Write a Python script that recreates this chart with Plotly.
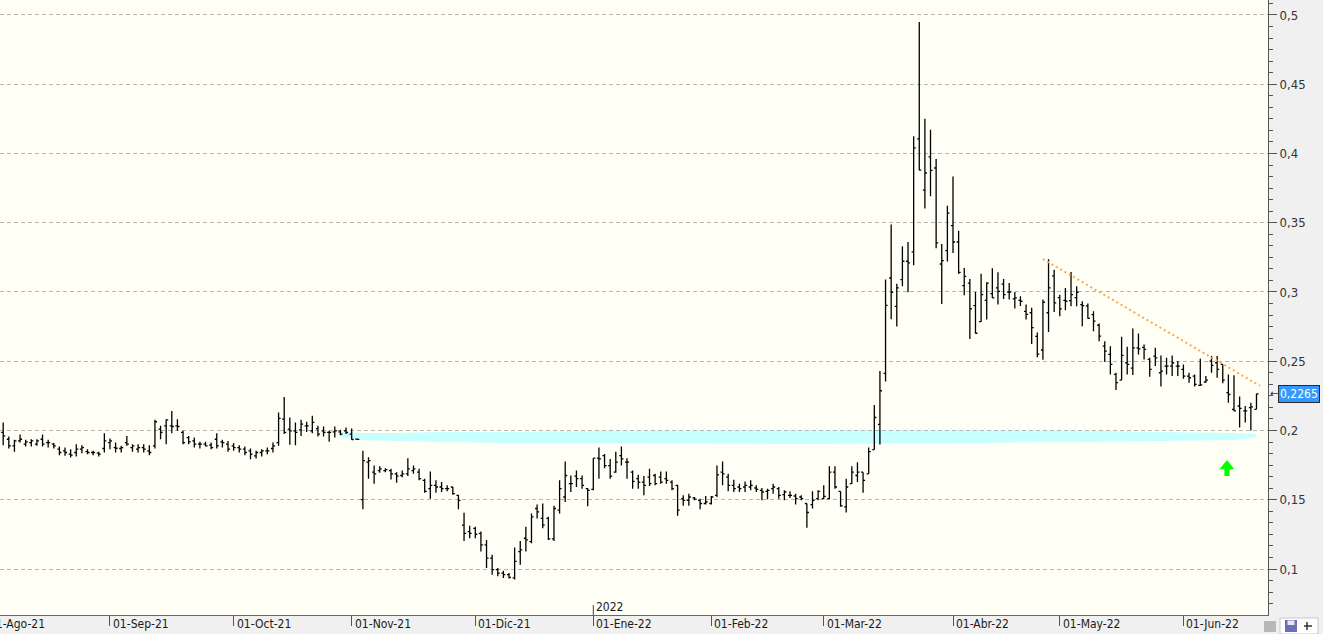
import plotly.graph_objects as go

FONT = "Liberation Sans Narrow, Arial Narrow, DejaVu Sans Condensed, Liberation Sans, sans-serif"

# ---------------- data (one bar per trading session) ----------------
opens = [
    0.1986, 0.1937, 0.1889, 0.1925, 0.1901, 0.1913, 0.1901, 0.1937, 0.1913, 0.1901,
    0.1865, 0.1853, 0.1829, 0.1841, 0.1865, 0.1848, 0.1841, 0.1836, 0.1870, 0.1913,
    0.1877, 0.1870, 0.1913, 0.1877, 0.1865, 0.1877, 0.1853, 0.1889, 0.2010, 0.2034,
    0.2034, 0.2034, 0.1986, 0.1949, 0.1925, 0.1901, 0.1901, 0.1894, 0.1937, 0.1918,
    0.1901, 0.1889, 0.1877, 0.1865, 0.1853, 0.1817, 0.1841, 0.1853, 0.1870, 0.1913,
    0.2082, 0.2010, 0.1998, 0.2005, 0.2034, 0.1998, 0.2014, 0.1998, 0.1986, 0.1990,
    0.1990, 0.1998, 0.1974, 0.1938, 0.1501, 0.1771, 0.1699, 0.1711, 0.1711, 0.1711,
    0.1687, 0.1675, 0.1687, 0.1711, 0.1699, 0.1640, 0.1580, 0.1604, 0.1592, 0.1580,
    0.1592, 0.1532, 0.1317, 0.1270, 0.1294, 0.1258, 0.1174, 0.1079, 0.0995, 0.0971,
    0.0959, 0.0936, 0.1126, 0.1222, 0.1198, 0.1437, 0.1365, 0.1365, 0.1217, 0.1425,
    0.1520, 0.1616, 0.1671, 0.1652, 0.1580, 0.1575, 0.1800, 0.1819, 0.1747, 0.1699,
    0.1819, 0.1771, 0.1699, 0.1652, 0.1628, 0.1663, 0.1675, 0.1663, 0.1652, 0.1628,
    0.1604, 0.1508, 0.1496, 0.1513, 0.1496, 0.1473, 0.1473, 0.1532, 0.1699, 0.1663,
    0.1604, 0.1592, 0.1592, 0.1592, 0.1585, 0.1568, 0.1561, 0.1580, 0.1580, 0.1537,
    0.1532, 0.1527, 0.1520, 0.1473, 0.1465, 0.1508, 0.1508, 0.1508, 0.1699, 0.1561,
    0.1449, 0.1616, 0.1675, 0.1699, 0.1687, 0.1862, 0.2044, 0.2413, 0.3101, 0.2896,
    0.3089, 0.3222, 0.3289, 0.4105, 0.3736, 0.3975, 0.3895, 0.3202, 0.3298, 0.3479,
    0.3361, 0.3046, 0.3064, 0.2902, 0.2786, 0.2940, 0.2988, 0.3029, 0.3057, 0.3000,
    0.2950, 0.2940, 0.2860, 0.2850, 0.2679, 0.2581, 0.2850, 0.3117, 0.2960, 0.2940,
    0.2938, 0.2960, 0.2909, 0.2900, 0.2837, 0.2760, 0.2609, 0.2549, 0.2405, 0.2364,
    0.2489, 0.2450, 0.2597, 0.2600, 0.2513, 0.2537, 0.2417, 0.2465, 0.2465, 0.2465,
    0.2441, 0.2393, 0.2393, 0.2326, 0.2350, 0.2501, 0.2489, 0.2477, 0.2273, 0.2153,
    0.2177, 0.2141, 0.2165, 0.2153,
]
highs = [
    0.2058, 0.1957, 0.1933, 0.1971, 0.1933, 0.1937, 0.1937, 0.1971, 0.1933, 0.1909,
    0.1884, 0.1877, 0.1865, 0.1901, 0.1894, 0.1865, 0.1853, 0.1846, 0.1981, 0.1942,
    0.1913, 0.1889, 0.1961, 0.1901, 0.1901, 0.1901, 0.1894, 0.2077, 0.2034, 0.2082,
    0.2140, 0.2082, 0.1998, 0.1961, 0.1949, 0.1918, 0.1918, 0.1913, 0.1981, 0.1933,
    0.1925, 0.1909, 0.1894, 0.1884, 0.1870, 0.1853, 0.1865, 0.1877, 0.1913, 0.2130,
    0.2242, 0.2094, 0.2058, 0.2077, 0.2063, 0.2106, 0.2034, 0.2029, 0.1998, 0.2029,
    0.2005, 0.2022, 0.2014, 0.1942, 0.1854, 0.1807, 0.1747, 0.1742, 0.1728, 0.1723,
    0.1699, 0.1711, 0.1800, 0.1747, 0.1723, 0.1652, 0.1704, 0.1640, 0.1628, 0.1604,
    0.1592, 0.1537, 0.1406, 0.1313, 0.1305, 0.1270, 0.1210, 0.1103, 0.1007, 0.0988,
    0.0971, 0.1155, 0.1203, 0.1305, 0.1401, 0.1465, 0.1473, 0.1377, 0.1456, 0.1640,
    0.1776, 0.1675, 0.1711, 0.1675, 0.1585, 0.1800, 0.1878, 0.1831, 0.1795, 0.1847,
    0.1885, 0.1800, 0.1711, 0.1680, 0.1671, 0.1723, 0.1687, 0.1704, 0.1704, 0.1640,
    0.1609, 0.1532, 0.1544, 0.1520, 0.1508, 0.1527, 0.1527, 0.1747, 0.1776, 0.1687,
    0.1644, 0.1616, 0.1632, 0.1640, 0.1604, 0.1585, 0.1580, 0.1616, 0.1592, 0.1568,
    0.1561, 0.1544, 0.1532, 0.1473, 0.1561, 0.1568, 0.1604, 0.1742, 0.1742, 0.1561,
    0.1652, 0.1742, 0.1771, 0.1699, 0.1878, 0.2184, 0.2430, 0.3090, 0.3488, 0.3060,
    0.3331, 0.3360, 0.4124, 0.4949, 0.4251, 0.4172, 0.3960, 0.3347, 0.3623, 0.3833,
    0.3443, 0.3174, 0.3093, 0.3000, 0.3131, 0.3071, 0.3171, 0.3143, 0.3093, 0.3064,
    0.3000, 0.2969, 0.2910, 0.2886, 0.2707, 0.2945, 0.3236, 0.3160, 0.2980, 0.3029,
    0.3144, 0.3041, 0.2933, 0.2916, 0.2861, 0.2772, 0.2645, 0.2609, 0.2417, 0.2676,
    0.2604, 0.2736, 0.2700, 0.2621, 0.2525, 0.2597, 0.2542, 0.2525, 0.2542, 0.2501,
    0.2477, 0.2417, 0.2405, 0.2518, 0.2393, 0.2537, 0.2537, 0.2477, 0.2405, 0.2398,
    0.2245, 0.2177, 0.2201, 0.2266,
]
lows = [
    0.1894, 0.1870, 0.1846, 0.1913, 0.1884, 0.1884, 0.1889, 0.1884, 0.1877, 0.1870,
    0.1822, 0.1817, 0.1805, 0.1812, 0.1836, 0.1829, 0.1822, 0.1812, 0.1841, 0.1865,
    0.1841, 0.1841, 0.1889, 0.1846, 0.1841, 0.1841, 0.1822, 0.1870, 0.1937, 0.1901,
    0.1981, 0.1998, 0.1901, 0.1901, 0.1877, 0.1870, 0.1884, 0.1865, 0.1870, 0.1877,
    0.1846, 0.1853, 0.1841, 0.1822, 0.1793, 0.1798, 0.1812, 0.1829, 0.1841, 0.1889,
    0.1974, 0.1897, 0.1894, 0.1961, 0.1990, 0.1981, 0.1957, 0.1957, 0.1918, 0.1949,
    0.1966, 0.1974, 0.1933, 0.1933, 0.1432, 0.1652, 0.1616, 0.1695, 0.1699, 0.1647,
    0.1623, 0.1663, 0.1671, 0.1687, 0.1640, 0.1551, 0.1508, 0.1551, 0.1556, 0.1561,
    0.1537, 0.1432, 0.1203, 0.1222, 0.1222, 0.1126, 0.1007, 0.0959, 0.0947, 0.0936,
    0.0931, 0.0924, 0.1031, 0.1126, 0.1186, 0.1365, 0.1294, 0.1210, 0.1203, 0.1401,
    0.1484, 0.1556, 0.1592, 0.1580, 0.1453, 0.1568, 0.1652, 0.1728, 0.1652, 0.1695,
    0.1747, 0.1652, 0.1580, 0.1580, 0.1532, 0.1599, 0.1604, 0.1616, 0.1616, 0.1568,
    0.1384, 0.1456, 0.1456, 0.1496, 0.1432, 0.1465, 0.1465, 0.1520, 0.1604, 0.1561,
    0.1556, 0.1556, 0.1556, 0.1568, 0.1556, 0.1496, 0.1504, 0.1544, 0.1508, 0.1496,
    0.1513, 0.1465, 0.1496, 0.1298, 0.1437, 0.1496, 0.1504, 0.1504, 0.1580, 0.1449,
    0.1408, 0.1616, 0.1628, 0.1551, 0.1687, 0.1862, 0.1899, 0.2353, 0.2804, 0.2751,
    0.3041, 0.2998, 0.3193, 0.3878, 0.3602, 0.3691, 0.3315, 0.2913, 0.3221, 0.3282,
    0.3130, 0.2976, 0.2660, 0.2700, 0.2783, 0.2802, 0.2957, 0.2910, 0.2950, 0.2945,
    0.2881, 0.2898, 0.2802, 0.2624, 0.2529, 0.2510, 0.2712, 0.2856, 0.2825, 0.2868,
    0.2897, 0.2897, 0.2753, 0.2806, 0.2717, 0.2645, 0.2494, 0.2405, 0.2293, 0.2364,
    0.2405, 0.2400, 0.2549, 0.2513, 0.2388, 0.2465, 0.2317, 0.2405, 0.2393, 0.2393,
    0.2374, 0.2345, 0.2317, 0.2321, 0.2345, 0.2417, 0.2381, 0.2341, 0.2201, 0.2141,
    0.2022, 0.2058, 0.2000, 0.2153,
]
closes = [
    0.1961, 0.1889, 0.1925, 0.1937, 0.1918, 0.1925, 0.1925, 0.1901, 0.1913, 0.1889,
    0.1841, 0.1841, 0.1822, 0.1865, 0.1877, 0.1841, 0.1841, 0.1829, 0.1925, 0.1925,
    0.1872, 0.1877, 0.1901, 0.1889, 0.1877, 0.1865, 0.1841, 0.2063, 0.1986, 0.2077,
    0.2029, 0.2029, 0.1913, 0.1918, 0.1901, 0.1901, 0.1889, 0.1877, 0.1889, 0.1913,
    0.1865, 0.1877, 0.1865, 0.1841, 0.1829, 0.1841, 0.1853, 0.1853, 0.1889, 0.2087,
    0.1986, 0.1998, 0.1986, 0.2046, 0.2034, 0.2058, 0.1974, 0.1986, 0.1986, 0.1998,
    0.1974, 0.1986, 0.1935, 0.1936, 0.1783, 0.1783, 0.1687, 0.1723, 0.1718, 0.1687,
    0.1671, 0.1687, 0.1723, 0.1723, 0.1652, 0.1561, 0.1604, 0.1592, 0.1580, 0.1580,
    0.1544, 0.1496, 0.1258, 0.1258, 0.1251, 0.1174, 0.1079, 0.0995, 0.0971, 0.0959,
    0.0940, 0.1055, 0.1138, 0.1210, 0.1377, 0.1413, 0.1317, 0.1217, 0.1437, 0.1580,
    0.1675, 0.1616, 0.1652, 0.1604, 0.1568, 0.1800, 0.1795, 0.1747, 0.1671, 0.1771,
    0.1795, 0.1771, 0.1632, 0.1628, 0.1604, 0.1616, 0.1616, 0.1628, 0.1640, 0.1580,
    0.1425, 0.1496, 0.1520, 0.1504, 0.1473, 0.1484, 0.1520, 0.1680, 0.1687, 0.1604,
    0.1580, 0.1580, 0.1604, 0.1604, 0.1575, 0.1556, 0.1568, 0.1592, 0.1532, 0.1556,
    0.1532, 0.1508, 0.1508, 0.1408, 0.1496, 0.1561, 0.1525, 0.1699, 0.1592, 0.1456,
    0.1592, 0.1699, 0.1699, 0.1640, 0.1847, 0.2094, 0.2287, 0.2903, 0.2998, 0.3029,
    0.3222, 0.3210, 0.4040, 0.3880, 0.3859, 0.3878, 0.3354, 0.3226, 0.3570, 0.3361,
    0.3142, 0.3113, 0.2879, 0.2702, 0.2981, 0.3064, 0.2957, 0.3005, 0.2981, 0.3000,
    0.2957, 0.2933, 0.2838, 0.2743, 0.2552, 0.2926, 0.3029, 0.2921, 0.2878, 0.2933,
    0.2981, 0.2998, 0.2902, 0.2810, 0.2789, 0.2681, 0.2573, 0.2477, 0.2345, 0.2542,
    0.2477, 0.2597, 0.2590, 0.2585, 0.2441, 0.2525, 0.2429, 0.2465, 0.2489, 0.2465,
    0.2393, 0.2381, 0.2333, 0.2330, 0.2364, 0.2470, 0.2441, 0.2364, 0.2260, 0.2141,
    0.2160, 0.2141, 0.2170, 0.2265,
]
bar_idx = list(range(len(closes)))

# month start (session index) and labels
month_idx = [-3, 19, 41, 62, 84, 105, 126, 146, 169, 188, 210]
month_labels = ["01-Ago-21", "01-Sep-21", "01-Oct-21", "01-Nov-21", "01-Dic-21",
                "01-Ene-22", "01-Feb-22", "01-Mar-22", "01-Abr-22", "01-May-22",
                "01-Jun-22"]
year_idx = 105
year_label = "2022"

y_ticks = [0.1, 0.15, 0.2, 0.25, 0.3, 0.35, 0.4, 0.45, 0.5]

# drawn objects
trend_idx = [185.0, 223.6]
trend_val = [0.3238, 0.2323]

zone_idx = [59.9, 63.8, 69.7, 77.4, 89.8, 109.7, 141.8, 173.1, 193.0, 205.5, 219.0, 222.9]
zone_top = [0.1989, 0.1982, 0.1982, 0.1989, 0.1989, 0.2000, 0.2004, 0.2004, 0.2000, 0.1989, 0.1982, 0.1975]
zone_bot = [0.1953, 0.1931, 0.1924, 0.1917, 0.1910, 0.1910, 0.1903, 0.1910, 0.1917, 0.1924, 0.1931, 0.1953]

signal_idx = 217.75
signal_tip = 0.1787
signal_base = 0.1720
signal_end = 0.1671

last_price = closes[-1]

# ---------------- figure ----------------
W, H = 1323, 634
ML, MR, MT, MB = 0, 55, 0, 19
PW, PH = W - ML - MR, H - MT - MB
X_RANGE = [-0.57, 225.05]


def idx_to_paper(i):
    return (i - X_RANGE[0]) / (X_RANGE[1] - X_RANGE[0])


fig = go.Figure()

fig.add_trace(go.Ohlc(
    x=bar_idx, open=opens, high=highs, low=lows, close=closes,
    increasing=dict(line=dict(color="#000000", width=1.3)),
    decreasing=dict(line=dict(color="#000000", width=1.3)),
    tickwidth=0.36, showlegend=False, hoverinfo="x+y",
))

fig.add_trace(go.Scatter(
    x=trend_idx, y=trend_val, mode="lines",
    line=dict(color="#FFA64D", width=2, dash="2px,3px"),
    showlegend=False, hoverinfo="skip",
))

# support zone (highlighter stroke)
pts = list(zip(zone_idx, zone_top)) + list(zip(zone_idx[::-1], zone_bot[::-1]))
zone_path = "M " + " L ".join(f"{x},{y}" for x, y in pts) + " Z"
fig.add_shape(type="path", path=zone_path, xref="x", yref="y",
              fillcolor="#C8FFFF", line=dict(width=0), layer="below")

# green signal arrow
hw, sw = 1.33, 0.46
arrow_pts = [(signal_idx, signal_tip), (signal_idx + hw, signal_base),
             (signal_idx + sw, signal_base), (signal_idx + sw, signal_end),
             (signal_idx - sw, signal_end), (signal_idx - sw, signal_base),
             (signal_idx - hw, signal_base)]
arrow_path = "M " + " L ".join(f"{x},{y}" for x, y in arrow_pts) + " Z"
fig.add_shape(type="path", path=arrow_path, xref="x", yref="y",
              fillcolor="#00FF00", line=dict(width=0), layer="above")

# month labels (left-aligned right of their tick)
for xi, lab in zip(month_idx, month_labels):
    fig.add_annotation(x=idx_to_paper(xi), xref="paper", y=0, yref="paper", text=lab,
                       xanchor="left", yanchor="top", xshift=1, yshift=0,
                       showarrow=False, font=dict(family=FONT, size=12, color="#1a1a1a"))

# year marker
fig.add_shape(type="line", xref="x", yref="paper", x0=year_idx, x1=year_idx,
              y0=0, y1=10 / PH, line=dict(color="#444444", width=1))
fig.add_annotation(x=idx_to_paper(year_idx), xref="paper", y=0, yref="paper", text=year_label,
                   xanchor="left", yanchor="bottom", xshift=1, yshift=-1,
                   showarrow=False, font=dict(family=FONT, size=12, color="#1a1a1a"))

# last price tag
fig.add_annotation(x=1.0, xref="paper", y=last_price, yref="y", text="←",
                   xanchor="left", yanchor="middle", xshift=0, showarrow=False,
                   font=dict(family="DejaVu Sans", size=10, color="#333333"))
fig.add_annotation(x=1278 / PW, xref="paper", y=last_price, yref="y",
                   text=f"{last_price:.4f}".replace(".", ","),
                   xanchor="left", yanchor="middle", showarrow=False,
                   align="center",
                   bgcolor="#3399FF", bordercolor="#2a2a2a", borderwidth=1, borderpad=1,
                   font=dict(family=FONT, size=12, color="#FFFFFF"))

# small toolbar icons bottom-right
def px_x(p):
    return (p - ML) / PW

def px_y(p):
    return (PH - (p - MT)) / PH

fig.add_shape(type="rect", xref="paper", yref="paper", x0=px_x(1264), x1=px_x(1276),
              y0=px_y(632), y1=px_y(621), fillcolor="#B8B8B8", line=dict(width=0))
fig.add_shape(type="rect", xref="paper", yref="paper", x0=px_x(1280), x1=px_x(1318),
              y0=px_y(634), y1=px_y(618), fillcolor="#FFFFFF", line=dict(color="#C8C8C8", width=1))
fig.add_shape(type="rect", xref="paper", yref="paper", x0=px_x(1285), x1=px_x(1297),
              y0=px_y(632), y1=px_y(620), fillcolor="#6E6EB8", line=dict(width=0))
fig.add_shape(type="rect", xref="paper", yref="paper", x0=px_x(1287.5), x1=px_x(1294.5),
              y0=px_y(625), y1=px_y(620.5), fillcolor="#E8E8F4", line=dict(width=0))
fig.add_shape(type="line", xref="paper", yref="paper", x0=px_x(1304), x1=px_x(1312),
              y0=px_y(626), y1=px_y(626), line=dict(color="#333333", width=1.5))
fig.add_shape(type="line", xref="paper", yref="paper", x0=px_x(1307), x1=px_x(1307),
              y0=px_y(622), y1=px_y(630), line=dict(color="#333333", width=1.5))

fig.update_layout(
    width=W, height=H,
    margin=dict(l=ML, r=MR, t=MT, b=MB, pad=0),
    paper_bgcolor="#F0F0F0", plot_bgcolor="#FFFFF5",
    separators=",.", showlegend=False,
    font=dict(family=FONT, size=13, color="#333333"),
    hovermode="closest",
)
fig.update_xaxes(
    range=X_RANGE, showgrid=False, zeroline=False,
    showline=True, linecolor="#666666", linewidth=1,
    tickmode="array", tickvals=month_idx, ticks="outside", ticklen=10,
    tickcolor="#555555", showticklabels=False,
    rangeslider=dict(visible=False), fixedrange=True,
)
fig.update_yaxes(
    side="right", range=[0.0668, 0.5108],
    tickmode="array", tickvals=y_ticks,
    ticktext=[f"{v:g}".replace(".", ",") for v in y_ticks],
    showgrid=True, gridcolor="#B4B4B4", gridwidth=1, griddash="4px,3px",
    zeroline=False, showline=True, linecolor="#555555", linewidth=1,
    ticks="outside", ticklen=8, tickcolor="#555555",
    tickfont=dict(family=FONT, size=13, color="#333333"),
    minor=dict(tickmode="linear", tick0=0, dtick=0.05 / 6, ticks="outside",
               ticklen=4, tickcolor="#555555", showgrid=False),
    fixedrange=True,
)

fig.write_html(
    "out.html",
    config={"displayModeBar": False},
    post_script="document.body.style.margin='0';document.body.style.padding='0';"
                "document.documentElement.style.overflow='hidden';",
)
